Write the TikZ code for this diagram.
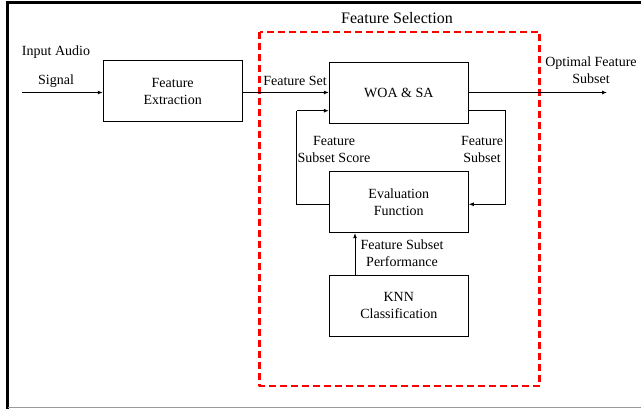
\documentclass[tikz,border=0pt]{standalone}
\usepackage{fontspec}
\setmainfont{Liberation Serif}
\usetikzlibrary{arrows.meta}
\begin{document}
\begin{tikzpicture}[x=1pt,y=-1pt,
  blk/.style={draw, line width=0.9pt, minimum width=139pt, minimum height=61pt, inner sep=0pt, align=center, font=\fontsize{14}{17}\selectfont},
  lbl/.style={align=center, inner sep=0pt, font=\fontsize{14}{17}\selectfont},
  conn/.style={line width=0.9pt, -{Latex[length=5pt,width=4pt]}},
  plain/.style={line width=0.9pt}]
\useasboundingbox (0,0) rectangle (641,409);
% frame
\draw[line width=3pt] (7,409) -- (7,2.5) -- (641,2.5);
\draw[line width=1.5pt, gray!80] (8,407.5) -- (641,407.5);
% selection area
\draw[red, line width=2.3pt, dash pattern=on 7pt off 4pt, line join=round] (259.5,32) rectangle (539.5,386);
\node[lbl, font=\fontsize{16}{19}\selectfont] (fstitle) at (397,18) {Feature Selection};
% blocks
\node[blk] (fe) at (172.7,91.2) {Feature\\Extraction};
\node[blk] (woa) at (398.8,92.5) {WOA \& SA};
\node[blk] (eval) at (398.8,202.2) {Evaluation\\Function};
\node[blk] (knn) at (398.8,305.8) {KNN\\Classification};
% labels
\node[lbl] (inlbl) at (56,52.5) {Input Audio};
\node[lbl] (siglbl) at (56,81) {Signal};
\node[lbl] (fslbl) at (295,81) {Feature Set};
\node[lbl] (outlbl) at (591,70) {Optimal Feature\\Subset};
\node[lbl] (scorelbl) at (334,149) {Feature\\Subset Score};
\node[lbl] (subsetlbl) at (482,149) {Feature\\Subset};
\node[lbl] (perflbl) at (402,253) {Feature Subset\\Performance};
% coordinates
\coordinate (in) at (22,92.5);
\coordinate (out) at (607,92.5);
\coordinate (rtop) at (505.7,110.7);
\coordinate (rbot) at (505.7,204.3);
\coordinate (ltop) at (296.7,110.7);
\coordinate (lbot) at (296.7,204.3);
% connectors
\draw[conn] (in) -- (fe.west |- in);
\draw[conn] (fe.east |- in) -- (woa.west |- in);
\draw[conn] (woa.east |- in) -- (out);
\draw[plain] (woa.east |- rtop) -- (rtop) -- (rbot);
\draw[conn] (rbot) -- (eval.east |- rbot);
\draw[plain] (eval.west |- lbot) -- (lbot) -- (ltop);
\draw[conn] (ltop) -- (woa.west |- ltop);
\draw[conn] (knn.north -| 355,0) -- (eval.south -| 355,0);
\end{tikzpicture}
\end{document}
